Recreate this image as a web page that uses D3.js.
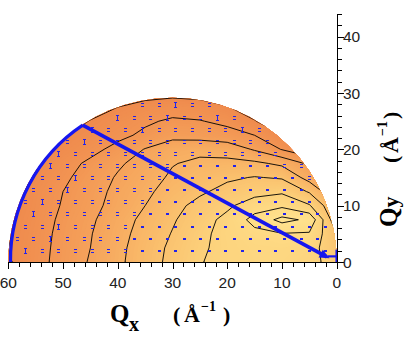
<!DOCTYPE html>
<html><head><meta charset="utf-8">
<script src="https://cdn.jsdelivr.net/npm/d3@7"></script>
<style>html,body{margin:0;padding:0;background:#fff}svg{display:block}</style>
</head><body>
<svg id="chart" width="419" height="338"></svg>
<script>
// ---------------- data ----------------
const gridQx = [0,5,10,15,20,25,30,35,40,45,50,55,60];
const gridQy = [0,2.5,5,7.5,10,12.5,15,17.5,20,22.5,25,27.5,30];
// estimated intensity levels (rows = Qy, columns = Qx)
const intensityRows = [
 [4.6,5.3,5.5,5.5,5.3,4.95,4.26,3.55,2.8,2.09,1.36,0.65,-0.1],
 [4.3,5.4,5.6,5.55,5.3,4.85,4.2,3.5,2.75,2.0,1.32,0.62,0.0],
 [4.0,5.9,5.95,5.75,5.35,4.75,4.05,3.4,2.65,1.95,1.28,0.57,-0.08],
 [3.2,6.8,7.3,6.3,5.3,4.55,3.9,3.25,2.55,1.85,1.2,0.5,-0.15],
 [3.0,5.1,5.8,5.6,4.8,4.3,3.7,3.0,2.35,1.7,1.08,0.4,-0.3],
 [2.0,3.9,4.85,4.6,4.3,3.85,3.4,2.8,2.25,1.6,1.0,0.35,-0.5],
 [1.0,2.6,3.9,4.05,3.85,3.5,3.15,2.6,2.1,1.45,0.8,0.15,-0.8],
 [0.0,1.8,2.8,3.2,3.25,3.2,2.95,2.4,1.85,1.2,0.6,-0.15,-1.5],
 [-1.0,0.2,0.95,1.9,2.6,2.75,2.6,2.05,1.3,0.7,0.2,-0.35,-2.0],
 [-3.0,-1.5,0.1,1.0,1.4,1.6,1.7,1.2,0.75,0.35,-0.05,-1.0,-3.0],
 [-5,-3.5,-1.5,0.1,0.75,1.05,1.15,0.85,0.45,0.05,-0.6,-2,-4],
 [-7,-5,-3,-1,0.1,0.45,0.55,0.35,0.0,-0.5,-1.5,-3,-5],
 [-9,-7,-5,-3,-1,-0.4,-0.3,-0.4,-0.8,-1.5,-2.5,-4,-6]
];
const contourLevels = [0,1,2,3,4,5,6,7];
const domainCenterQx = 30, domainRadiusQx = 30;

// measurement lattice (staggered rows)
const pointRowsQy = [2.0,4.15,6.3,8.45,10.6,12.75,14.9,17.05,19.2,21.35,23.5,25.65,27.8];
const pointColsEvenQx = [2.05,5.1,8.15,11.2,14.25,17.3,20.35,23.4,26.45,29.5,32.55,35.6,38.65,41.7,44.75,47.8,50.85,53.9,56.95];
const pointColsOddQx = [0.5,3.55,6.6,9.65,12.7,15.75,18.8,21.85,24.9,27.95,31.0,34.05,37.1,40.15,43.2,46.25,49.3,52.35,55.4,58.45];

// scan path
const scanStart = [59.6, 0];
const scanCorner = [46.4, 24.3];
const scanEnd = [1.8, 0.9];
const originBarV = [[0,0],[0,2.2]];
const originBarH = [[0,1.0],[1.6,1.0]];

const xTicks = [60,50,40,30,20,10,0];
const yTicks = [0,10,20,30,40];
const xMinor = d3.range(0,61,2);
const yMinor = d3.range(0,45,2);

// ---------------- scales ----------------
const svg = d3.select('#chart');
const x = d3.scaleLinear().domain([60,0]).range([8.3,336.7]);
const y = d3.scaleLinear().domain([0,40]).range([262,36.7]);
const color = d3.scaleLinear()
  .domain([0,1,2,3,4,5,6,7.5])
  .range(["#EF8A4D","#F29553","#F5A25B","#F8B264","#FAC26F","#FCD17B","#FEDC86","#FFE592"])
  .clamp(true);

const cx = x(domainCenterQx), cy = y(0);
const R = Math.abs(x(domainCenterQx + domainRadiusQx) - cx);

svg.append('defs').append('clipPath').attr('id','half')
  .append('path')
  .attr('d', `M${cx-R},${cy}A${R},${R} 0 0 1 ${cx+R},${cy}Z`);

const nx = gridQx.length, ny = gridQy.length;
const flat = [];
intensityRows.forEach(r => r.forEach(v => flat.push(v)));
const dQx = gridQx[1]-gridQx[0], dQy = gridQy[1]-gridQy[0];
function toPx(p){ return [x(gridQx[0] + (p[0]-0.5)*dQx), y(gridQy[0] + (p[1]-0.5)*dQy)]; }
function mpPath(mp){
  let s='';
  for (const poly of mp.coordinates) for (const ring of poly){
    s += 'M' + ring.map(p => { const q = toPx(p); return q[0].toFixed(2)+','+q[1].toFixed(2); }).join('L') + 'Z';
  }
  return s;
}

const plot = svg.append('g').attr('clip-path','url(#half)');
plot.append('rect').attr('x',0).attr('y',0).attr('width',419).attr('height',338).attr('fill',color(-1));
const fillThresholds = d3.range(-1, 7.5, 0.1);
const gen = d3.contours().size([nx, ny]);
plot.append('g').selectAll('path')
  .data(gen.thresholds(fillThresholds)(flat))
  .join('path')
  .attr('d', d => mpPath(d))
  .attr('fill', d => color(d.value + 0.05))
  .attr('fill-rule','evenodd');

plot.append('g').selectAll('path')
  .data(gen.thresholds(contourLevels)(flat))
  .join('path')
  .attr('d', d => mpPath(d))
  .attr('fill','none')
  .attr('stroke','#000')
  .attr('stroke-width',0.9);

// bilinear lookup (for choosing glyph style)
function fieldAt(qx,qy){
  const fx = Math.max(0,Math.min(nx-1.001,(qx-gridQx[0])/dQx));
  const fy = Math.max(0,Math.min(ny-1.001,(qy-gridQy[0])/dQy));
  const i=Math.floor(fx), j=Math.floor(fy), tx=fx-i, ty=fy-j;
  const v00=intensityRows[j][i], v10=intensityRows[j][i+1], v01=intensityRows[j+1][i], v11=intensityRows[j+1][i+1];
  return (v00*(1-tx)+v10*tx)*(1-ty)+(v01*(1-tx)+v11*tx)*ty;
}

// points
const pts = [];
pointRowsQy.forEach((qy,k) => {
  (k%2===0 ? pointColsEvenQx : pointColsOddQx).forEach((qx,n) => {
    const px = x(qx), py = y(qy);
    if (Math.hypot(px-cx, py-cy) < R-3) pts.push({qx,qy,px,py,k,n});
  });
});
const blue = '#1616EE';
const pg = svg.append('g').attr('fill','#2323EA').attr('shape-rendering','crispEdges');
pts.forEach(p => {
  const v = fieldAt(p.qx,p.qy);
  const X = Math.round(p.px), Y = Math.round(p.py);
  const alt = (p.k + p.n) % 3 === 0;
  if (v < 1.2 && alt){
    pg.append('rect').attr('x',X-1).attr('y',Y-3).attr('width',3).attr('height',1);
    pg.append('rect').attr('x',X).attr('y',Y-2).attr('width',1).attr('height',4);
    pg.append('rect').attr('x',X-1).attr('y',Y+2).attr('width',3).attr('height',1);
  } else if (v < 3.0){
    pg.append('rect').attr('x',X-1).attr('y',Y-2).attr('width',3).attr('height',1);
    pg.append('rect').attr('x',X-1).attr('y',Y+1).attr('width',3).attr('height',1);
  } else {
    pg.append('rect').attr('x',X-1).attr('y',Y-1).attr('width',3).attr('height',2);
  }
});

// scan path
const s0 = [x(scanStart[0]), y(scanStart[1])];
const s1 = [x(scanCorner[0]), y(scanCorner[1])];
const s2 = [x(scanEnd[0]), y(scanEnd[1])];
const rArc = Math.hypot(s0[0]-cx, s0[1]-cy);
svg.append('path')
  .attr('d', `M${s0[0]},${s0[1]}A${rArc},${rArc} 0 0 1 ${s1[0]},${s1[1]}`)
  .attr('fill','none').attr('stroke',blue).attr('stroke-width',3.2);
svg.append('path')
  .attr('d', `M${s1[0]},${s1[1]}L${s2[0]},${s2[1]}`)
  .attr('fill','none').attr('stroke',blue).attr('stroke-width',3.6);
{
  const dx = s2[0]-s1[0], dy = s2[1]-s1[1], L = Math.hypot(dx,dy);
  const ux = dx/L, uy = dy/L, vx = -uy, vy = ux;
  const tip = [s2[0]+ux*3, s2[1]+uy*3];
  const b = [s2[0]-ux*7, s2[1]-uy*7];
  svg.append('path')
    .attr('d', `M${tip[0]},${tip[1]}L${b[0]+vx*4.5},${b[1]+vy*4.5}L${b[0]-vx*4.5},${b[1]-vy*4.5}Z`)
    .attr('fill',blue);
}
const line = d3.line().x(d=>x(d[0])).y(d=>y(d[1]));
svg.append('path').attr('d', line(originBarV)).attr('stroke',blue).attr('stroke-width',2.5).attr('fill','none');
svg.append('path').attr('d', line(originBarH)).attr('stroke',blue).attr('stroke-width',2.2).attr('fill','none');

// axes
const ax = svg.append('g').attr('stroke','#000').attr('stroke-width',1).attr('shape-rendering','crispEdges');
const x0 = Math.round(x(0))+0.5, y0 = Math.round(y(0))+0.5;
ax.append('line').attr('x1',Math.round(x(60))).attr('x2',x0).attr('y1',y0).attr('y2',y0);
ax.append('line').attr('x1',x0).attr('x2',x0).attr('y1',y0).attr('y2',Math.round(y(44)));
xMinor.forEach(v => {
  const X = Math.round(x(v))+0.5, major = v%10===0;
  ax.append('line').attr('x1',X).attr('x2',X).attr('y1',y0).attr('y2',y0+(major?6:4.5));
});
yMinor.forEach(v => {
  const Y = Math.round(y(v))+0.5, major = v%10===0;
  ax.append('line').attr('x1',x0).attr('x2',x0+(major?6:4.5)).attr('y1',Y).attr('y2',Y);
});
const tf = 'Liberation Sans, Arial, sans-serif';
svg.append('g').selectAll('text').data(xTicks).join('text')
  .attr('x', d => x(d)).attr('y', 288)
  .attr('text-anchor','middle').attr('font-family',tf).attr('font-size',15.5).attr('fill','#222')
  .text(d => d);
svg.append('g').selectAll('text').data(yTicks).join('text')
  .attr('x', 343).attr('y', d => y(d)+5.5)
  .attr('text-anchor','start').attr('font-family',tf).attr('font-size',15.5).attr('fill','#222')
  .text(d => d);

// axis titles
const sf = 'Liberation Serif, Times New Roman, serif';
function piece(g, txt, px, py, size, bold){
  g.append('text').attr('x',px).attr('y',py).attr('font-family',sf).attr('font-size',size)
   .attr('font-weight', bold ? 'bold' : 'normal').attr('fill','#000').text(txt);
}
const xt = svg.append('g');
piece(xt,'Q',110,322,25,true);
piece(xt,'x',129,331,20,true);
piece(xt,'(',173,322,22,true);
piece(xt,'Å',184,322,22,true);
piece(xt,'−1',201,311,14,true);
piece(xt,')',223,322,22,true);

const yt = svg.append('g').attr('transform','translate(397,227) rotate(-90)');
piece(yt,'Q',0,0,25,true);
piece(yt,'y',19.5,1,22,true);
piece(yt,'(',64,1,22,true);
piece(yt,'Å',74,1,22,true);
piece(yt,'−1',91,-10,14,true);
piece(yt,')',108,1,22,true);
</script>
</body></html>
